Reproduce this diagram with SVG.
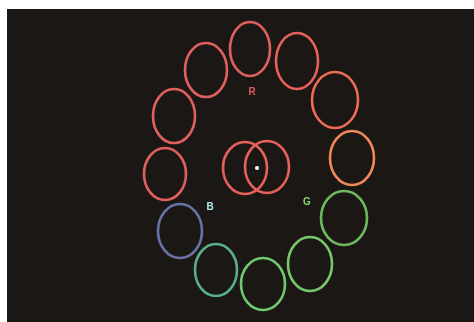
<svg xmlns="http://www.w3.org/2000/svg" width="474" height="322" viewBox="0 0 474 322">
<defs>
<style>
.ring{fill:none;stroke-width:2.6}
.lbl{font-family:"Liberation Sans",Arial,sans-serif;font-size:10px;font-weight:bold;text-anchor:middle}
</style>
<filter id="soft" x="-20%" y="-20%" width="140%" height="140%"><feGaussianBlur stdDeviation="0.6"/></filter>
</defs>
<rect x="0" y="0" width="474" height="322" fill="#ffffff"/>
<rect x="7" y="9" width="467" height="313" fill="#1a1714"/>
<g filter="url(#soft)">
<g id="ring1"><ellipse class="ring" cx="250" cy="49" rx="20" ry="27" stroke="#e0605e"/></g>
<g id="ring2"><ellipse class="ring" cx="297" cy="61" rx="21" ry="28" stroke="#e8605a"/></g>
<g id="ring3"><ellipse class="ring" cx="335" cy="100" rx="23" ry="28" stroke="#f06a58"/></g>
<g id="ring4"><ellipse class="ring" cx="352" cy="158" rx="22" ry="27" stroke="#f08858"/></g>
<g id="ring5"><ellipse class="ring" cx="344" cy="218" rx="23" ry="27" stroke="#70b860"/></g>
<g id="ring6"><ellipse class="ring" cx="310" cy="264" rx="22" ry="27" stroke="#78c868"/></g>
<g id="ring7"><ellipse class="ring" cx="263" cy="284" rx="22" ry="26" stroke="#70c870"/></g>
<g id="ring8"><ellipse class="ring" cx="216" cy="270" rx="21" ry="26" stroke="#58b088"/></g>
<g id="ring9"><ellipse class="ring" cx="180" cy="231" rx="22" ry="27" stroke="#6870a8"/></g>
<g id="ring10"><ellipse class="ring" cx="165" cy="174" rx="21" ry="26" stroke="#e0605e"/></g>
<g id="ring11"><ellipse class="ring" cx="174" cy="116" rx="21" ry="27" stroke="#e0605e"/></g>
<g id="ring12"><ellipse class="ring" cx="206" cy="70" rx="21" ry="27" stroke="#e0605e"/></g>
<g id="centerL"><ellipse class="ring" cx="245" cy="168" rx="22" ry="26" stroke="#e8605a"/></g>
<g id="centerR"><ellipse class="ring" cx="267" cy="167" rx="22" ry="26" stroke="#e8605a"/></g>
<g id="dot"><circle cx="257" cy="168" r="2" fill="#ffffff"/></g>
<text class="lbl" x="252" y="95" fill="#e05858">R</text>
<text class="lbl" x="210" y="210" fill="#b0e8f0">B</text>
<text class="lbl" x="307" y="205" fill="#80d860">G</text>
</g>
</svg>
